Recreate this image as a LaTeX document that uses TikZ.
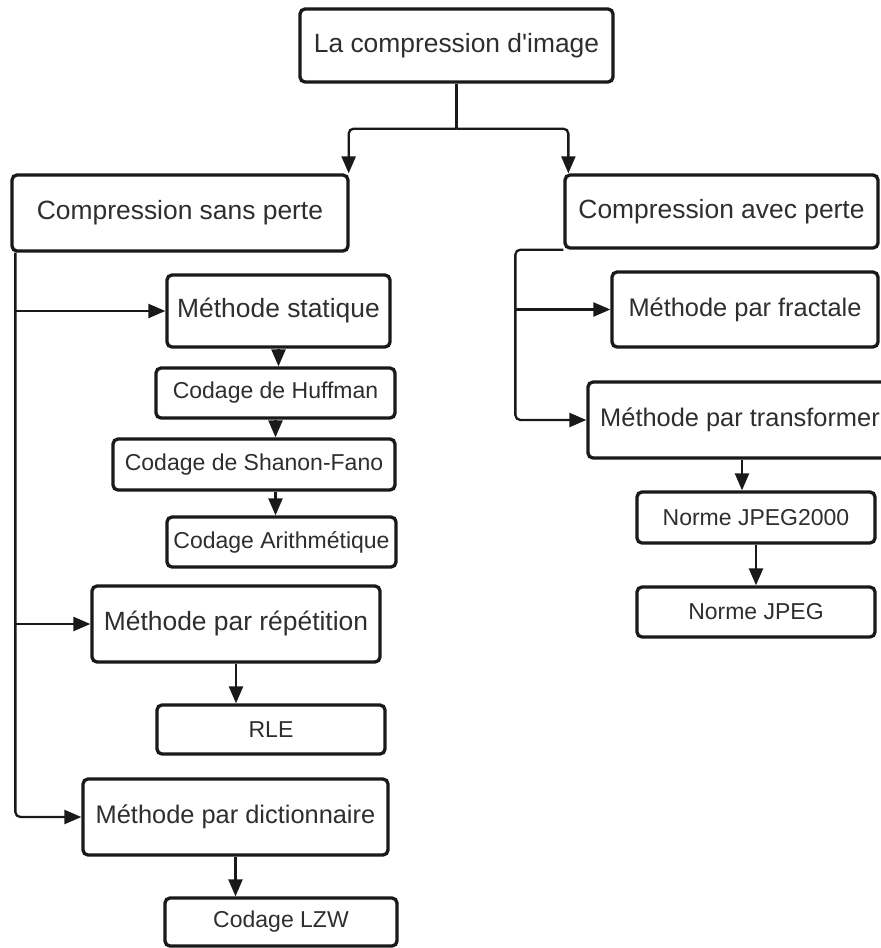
\documentclass[tikz,border=0pt]{standalone}
\usepackage{fontspec}
\setmainfont{Liberation Sans}[Ligatures=TeXOff]
\usetikzlibrary{arrows.meta}

\begin{document}
\begin{tikzpicture}[x=1pt,y=-1pt,
  box/.style={draw=black!90, line width=3.3pt, rounded corners=5pt, fill=white,
    inner sep=0pt, text=black!82, anchor=center},
  big/.style={font=\fontsize{26.4}{30}\selectfont},
  mid/.style={font=\fontsize{25.4}{29}\selectfont},
  small/.style={font=\fontsize{23}{27}\selectfont},
  conn/.style={draw=black!90, line width=2.3pt, rounded corners=5pt},
  arr/.style={conn, -{Triangle[length=17pt,width=14pt]}}]

\useasboundingbox (0,0) rectangle (881,948);
\fill[white] (0,0) rectangle (881,948);
\clip (0,0) rectangle (881,948);

% root and the two families
\node[box,big,minimum width=313pt,minimum height=73pt] (root) at (456.5,45.5) {La compression d'image};
\node[box,big,minimum width=336pt,minimum height=76pt] (sans) at (180,213) {Compression sans perte};
\node[box,big,minimum width=313pt,minimum height=73pt] (avec) at (721.5,211.5) {Compression avec perte};

% lossless branch
\node[box,big,minimum width=223pt,minimum height=72pt] (stat) at (278.5,311) {Méthode statique};
\node[box,small,minimum width=239pt,minimum height=50pt] (huff) at (275.5,393) {Codage de Huffman};
\node[box,small,minimum width=282pt,minimum height=51pt] (shan) at (254,464.5) {Codage de Shanon-Fano};
\node[box,small,minimum width=229pt,minimum height=50pt] (arith) at (281.5,542) {Codage Arithmétique};
\node[box,big,minimum width=288pt,minimum height=76pt] (rep) at (236,624) {Méthode par répétition};
\node[box,small,minimum width=228pt,minimum height=49pt] (rle) at (271,729.5) {RLE};
\node[box,mid,minimum width=305pt,minimum height=76pt] (dict) at (235.5,817) {Méthode par dictionnaire};
\node[box,small,minimum width=232pt,minimum height=48pt] (lzw) at (281,922) {Codage LZW};

% lossy branch
\node[box,mid,minimum width=266pt,minimum height=75pt] (fract) at (745,309.5) {Méthode par fractale};
\node[box,mid,minimum width=304pt,minimum height=76pt] (trans) at (740,420) {Méthode par transformer};
\node[box,small,minimum width=238pt,minimum height=51pt] (jp2) at (756,517.5) {Norme JPEG2000};
\node[box,small,minimum width=238pt,minimum height=50pt] (jpeg) at (756,612) {Norme JPEG};

% root split
\coordinate (split) at ([yshift=-45pt]root.south);
\draw[conn] (root.south) -- (split);
\draw[arr] (split) -| ([xshift=-1pt]sans.north east);
\draw[arr] (split) -| ([xshift=5pt]avec.north west);

% left trunk
\coordinate (lt) at ([xshift=5pt]sans.south west);
\draw[arr] (lt) |- (dict.west);
\draw[arr] (lt |- stat.west) -- (stat.west);
\draw[arr] (lt |- rep.west) -- (rep.west);

% right trunk
\coordinate (rt) at ([xshift=-48pt]avec.south west);
\draw[arr] (avec.south west) -- (rt) |- (trans.west);
\draw[arr] (rt |- fract.west) -- (fract.west);

% vertical links
\draw[arr] (stat.south) -- (stat.south |- huff.north);
\draw[arr] (huff.south) -- (huff.south |- shan.north);
\draw[arr] (huff.south |- shan.south) -- (huff.south |- arith.north);
\draw[arr] (rep.south) -- (rep.south |- rle.north);
\draw[arr] (dict.south) -- (dict.south |- lzw.north);
\coordinate (jt) at ([xshift=-14pt]jp2.north);
\draw[arr] (jt |- trans.south) -- (jt);
\draw[arr] (jp2.south) -- (jpeg.north);
\end{tikzpicture}
\end{document}
